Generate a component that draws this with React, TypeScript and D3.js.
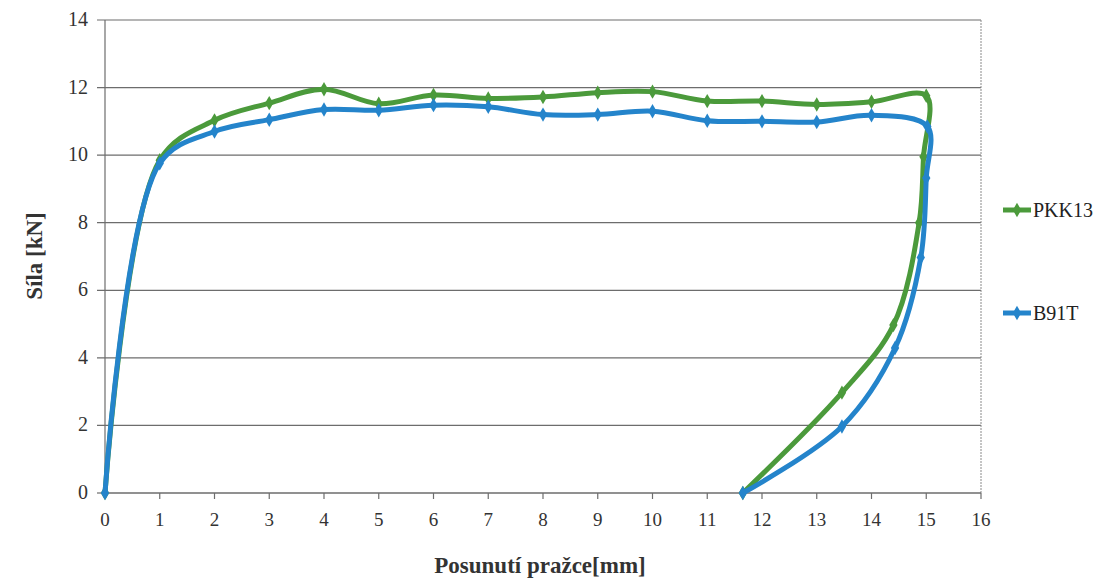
import { useEffect, useRef } from 'react'
import * as d3 from 'd3'

// PKK13 load curve (x = displacement mm, y = force kN)
const pkkX = [0, 1, 2, 3, 4, 5, 6, 7, 8, 9, 10, 11, 12, 13, 14, 15, 14.95, 14.87, 14.4, 13.46, 11.65]
const pkkY = [0, 9.85, 11.03, 11.54, 11.95, 11.52, 11.78, 11.68, 11.72, 11.85, 11.88, 11.6, 11.6, 11.5, 11.58, 11.76, 9.95, 8.0, 4.97, 2.97, 0]

// B91T load curve
const b91X = [0, 1, 2, 3, 4, 5, 6, 7, 8, 9, 10, 11, 12, 13, 14, 15.02, 15.0, 14.9, 14.43, 13.46, 11.65]
const b91Y = [0, 9.76, 10.7, 11.05, 11.35, 11.33, 11.48, 11.43, 11.2, 11.2, 11.3, 11.02, 11.0, 10.98, 11.18, 10.85, 9.32, 6.97, 4.29, 1.97, 0]

const xTicks = d3.range(0, 17, 1)
const yTicks = d3.range(0, 15, 2)

const seriesNames = ['PKK13', 'B91T']
const seriesColors = ['#4b9a3b', '#2484cb']

const FONT = "'Liberation Serif', serif"

export default function App() {
  const svgRef = useRef<SVGSVGElement>(null)

  useEffect(() => {
    if (!svgRef.current) return
    const svg = d3.select(svgRef.current)
    svg.selectAll('*').remove()

    const left = 105, right = 981, top = 20, bottom = 493
    const x = d3.scaleLinear().domain([0, 16]).range([left, right])
    const y = d3.scaleLinear().domain([0, 14]).range([bottom, top])

    // gridlines
    svg.append('g')
      .selectAll('line')
      .data(yTicks.filter(d => d > 0))
      .join('line')
      .attr('x1', left - 8).attr('x2', right)
      .attr('y1', d => y(d)).attr('y2', d => y(d))
      .attr('stroke', '#6d6d6d').attr('stroke-width', 1.2)

    // right border (dotted)
    svg.append('line')
      .attr('x1', right).attr('x2', right).attr('y1', top).attr('y2', bottom)
      .attr('stroke', '#8a8a8a').attr('stroke-width', 1).attr('stroke-dasharray', '2,1')

    // y axis
    svg.append('line')
      .attr('x1', left).attr('x2', left).attr('y1', top).attr('y2', bottom)
      .attr('stroke', '#6d6d6d').attr('stroke-width', 1.2)
    svg.append('line')
      .attr('x1', left - 8).attr('x2', left).attr('y1', bottom).attr('y2', bottom)
      .attr('stroke', '#6d6d6d').attr('stroke-width', 1.2)

    // x axis
    svg.append('line')
      .attr('x1', left).attr('x2', right).attr('y1', bottom).attr('y2', bottom)
      .attr('stroke', '#6d6d6d').attr('stroke-width', 1.4)
    svg.append('g')
      .selectAll('line')
      .data(xTicks)
      .join('line')
      .attr('x1', d => x(d)).attr('x2', d => x(d))
      .attr('y1', bottom).attr('y2', bottom + 6)
      .attr('stroke', '#6d6d6d').attr('stroke-width', 1.2)

    svg.append('g')
      .selectAll('text')
      .data(xTicks)
      .join('text')
      .attr('x', d => x(d)).attr('y', bottom + 33)
      .attr('text-anchor', 'middle')
      .style('font-family', FONT).style('font-size', '19px').attr('fill', '#333')
      .text(d => d)

    svg.append('g')
      .selectAll('text')
      .data(yTicks)
      .join('text')
      .attr('x', 88).attr('y', d => y(d) + 6)
      .attr('text-anchor', 'end')
      .style('font-family', FONT).style('font-size', '20px').attr('fill', '#333')
      .text(d => d)

    // axis titles
    svg.append('text')
      .attr('transform', 'translate(42,256) rotate(-90)')
      .attr('text-anchor', 'middle')
      .style('font-family', FONT).style('font-size', '23px').style('font-weight', 'bold').attr('fill', '#333')
      .text('Síla [kN]')
    svg.append('text')
      .attr('x', 540).attr('y', 573)
      .attr('text-anchor', 'middle')
      .style('font-family', FONT).style('font-size', '23px').style('font-weight', 'bold').attr('fill', '#333')
      .text('Posunutí pražce[mm]')

    const series = [
      pkkX.map((v, i) => [v, pkkY[i]] as [number, number]),
      b91X.map((v, i) => [v, b91Y[i]] as [number, number]),
    ]

    // smoothed line
    const line = d3.line<[number, number]>()
      .x(d => x(d[0])).y(d => y(d[1]))
      .curve(d3.curveCatmullRom.alpha(0.5))

    const diamond = d3.symbol().type(d3.symbolDiamond).size(60)

    series.forEach((pts, si) => {
      const g = svg.append('g')
      g.append('path')
        .attr('d', line(pts))
        .attr('fill', 'none')
        .attr('stroke', seriesColors[si])
        .attr('stroke-width', 5)
        .attr('stroke-linejoin', 'round')
      g.selectAll('path.m')
        .data(pts)
        .join('path')
        .attr('class', 'm')
        .attr('d', diamond)
        .attr('transform', d => `translate(${x(d[0])},${y(d[1])})`)
        .attr('fill', seriesColors[si])
    })

    // legend
    const legendY = [210, 313]
    seriesNames.forEach((name, i) => {
      const g = svg.append('g').attr('transform', `translate(0,${legendY[i]})`)
      g.append('line')
        .attr('x1', 1003).attr('x2', 1031).attr('y1', 0).attr('y2', 0)
        .attr('stroke', seriesColors[i]).attr('stroke-width', 5)
      g.append('path')
        .attr('d', diamond)
        .attr('transform', 'translate(1017,0)')
        .attr('fill', seriesColors[i])
      g.append('text')
        .attr('x', 1033).attr('y', 7)
        .style('font-family', FONT).style('font-size', '20px').attr('fill', '#222')
        .text(name)
    })
  }, [])

  return (
    <svg
      ref={svgRef}
      width={1102}
      height={580}
      style={{ position: 'absolute', left: 0, top: 0, background: '#fff' }}
    />
  )
}
